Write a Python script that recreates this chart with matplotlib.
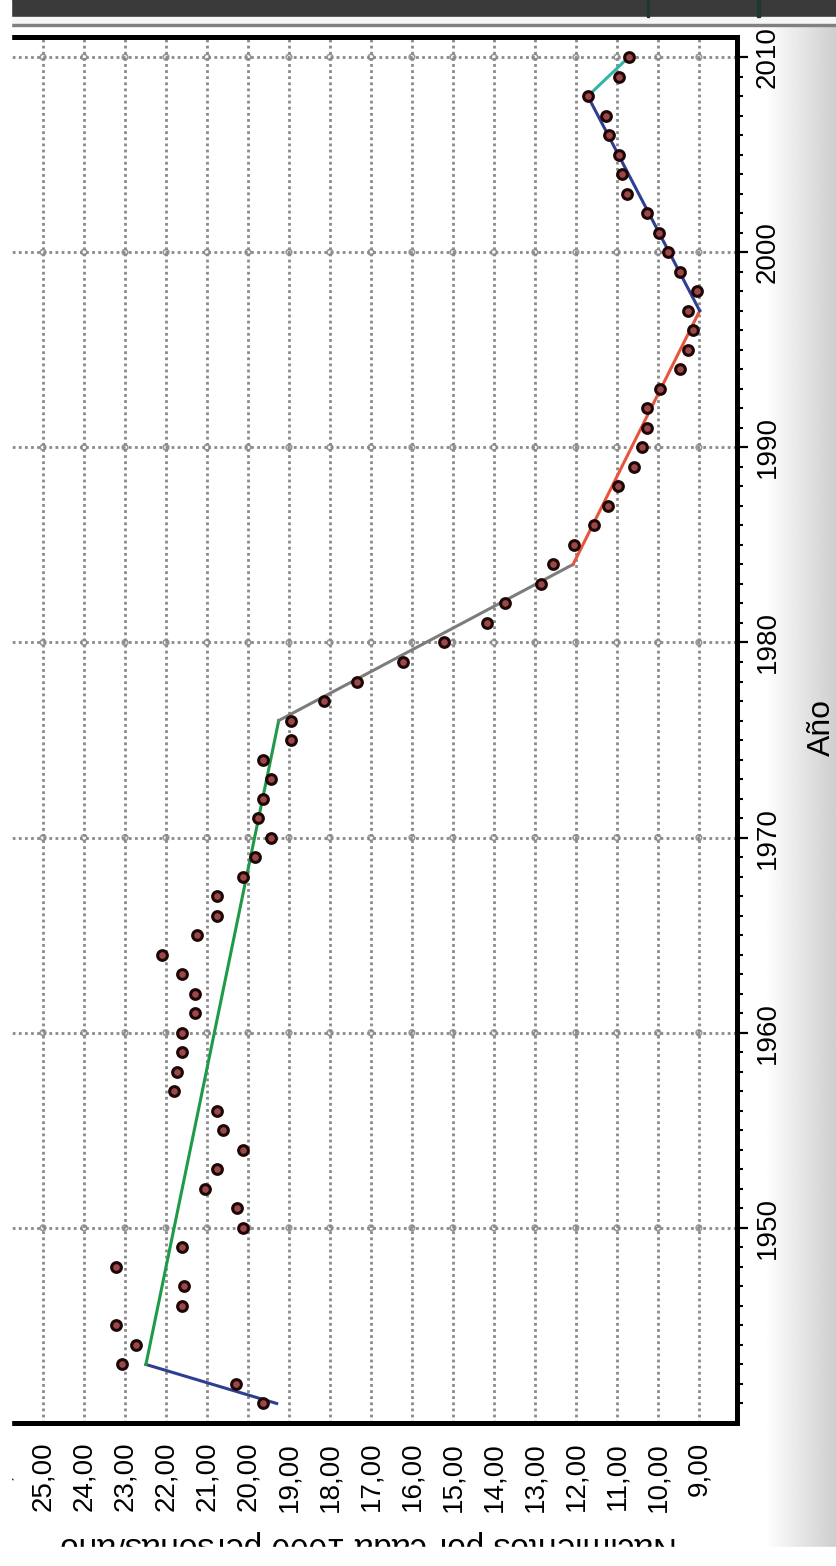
import numpy as np
import matplotlib
matplotlib.use("Agg")
import matplotlib.pyplot as plt
from matplotlib.patches import Rectangle

plt.rcParams["font.family"] = ["Liberation Sans", "DejaVu Sans"]

# ── Data ──────────────────────────────────────────────────────────────────────
years = list(range(1941, 2011))
birth_rate = [
    19.63, 20.29, 23.07, 22.73, 23.22, 21.60, 21.56, 23.22, 21.60,   # 1941-49
    20.12, 20.27, 21.05, 20.76, 20.12, 20.61, 20.76, 21.80, 21.73, 21.61,  # 1950-59
    21.61, 21.29, 21.29, 21.61, 22.10, 21.24, 20.76, 20.76, 20.12, 19.83,  # 1960-69
    19.44, 19.76, 19.63, 19.44, 19.63, 18.95, 18.95, 18.15, 17.34, 16.22,  # 1970-79
    15.22, 14.17, 13.73, 12.85, 12.56, 12.05, 11.56, 11.22, 10.98, 10.59,  # 1980-89
    10.39, 10.27, 10.27, 9.95, 9.46, 9.27, 9.15, 9.27, 9.05, 9.46,         # 1990-99
    9.76, 9.98, 10.27, 10.76, 10.88, 10.95, 11.20, 11.27, 11.71, 10.95,    # 2000-09
    10.71,                                                                 # 2010
]

# piecewise trend (breakpoints)
trend_years = [1941, 1943, 1976, 1984, 1997, 2008, 2010]
trend_rate = [19.30, 22.49, 19.25, 12.07, 8.98, 11.71, 10.71]
trend_colors = ["#2e3f8f", "#1f9a48", "#7c7c7c", "#e8553f", "#2e3f8f", "#33b3a6"]

value_ticks = list(range(9, 27))
value_labels = [f"{v},00" for v in value_ticks]
decade_ticks = list(range(1950, 2011, 10))
year_minor = list(range(1941, 2011))

W, H = 836, 1566

# ── Figure + screenshot chrome ────────────────────────────────────────────────
fig = plt.figure(figsize=(W / 100, H / 100), dpi=100)
fig.patch.set_facecolor("white")

bg = fig.add_axes([0, 0, 1, 1], zorder=-5)
grad = np.linspace(1.0, 0.81, 80)[None, :]
bg.imshow(grad, cmap="gray", vmin=0, vmax=1, extent=(765, W, 1547, 25), aspect="auto")
bg.add_patch(Rectangle((0, 0), W, 17, color="#3a3a3a"))
bg.add_patch(Rectangle((0, 17), W, 7, color="#f6f6f6"))
bg.add_patch(Rectangle((0, 24), W, 1.5, color="#808080"))
bg.add_patch(Rectangle((647, 0), 2, 17, color="#1c3a2c"))
bg.add_patch(Rectangle((757, 0), 2.5, 17, color="#1c3a2c"))
bg.set_xlim(0, W)
bg.set_ylim(H, 0)
bg.axis("off")

# ── Chart (drawn rotated: value horizontal, year vertical) ───────────────────
ax = fig.add_axes([0, (H - 1423) / H, 737 / W, 1386 / H])
ax.set_facecolor("white")
ax.set_xlim(26.05, 8.07)
ax.set_ylim(1940, 2011.03)

ax.yaxis.tick_right()
ax.set_xticks(value_ticks, value_labels, rotation=90, va="top", ha="center")
ax.set_yticks(decade_ticks, [str(y) for y in decade_ticks], rotation=90, va="center")
ax.set_yticks(year_minor, minor=True)

ax.grid(True, which="major", color="#8a8a8a", linestyle=(0, (1, 1.2)), linewidth=2)
gx, gy = np.meshgrid(value_ticks, decade_ticks)
ax.scatter(gx.ravel(), gy.ravel(), s=16, facecolors="none", edgecolors="#999999",
           linewidths=1.2, zorder=1.5)

for i, c in enumerate(trend_colors):
    ax.plot(trend_rate[i:i + 2], trend_years[i:i + 2], color=c, linewidth=2.2, zorder=3)

ax.plot(birth_rate, years, "o", markersize=7, markerfacecolor="#9a4848",
        markeredgecolor="#1e0606", markeredgewidth=2.2, zorder=4)

for s in ["top", "right", "bottom"]:
    ax.spines[s].set_linewidth(3.6)
    ax.spines[s].set_color("black")
ax.spines["left"].set_visible(False)

ax.tick_params(axis="x", length=0, pad=13.5, labelsize=20)
ax.tick_params(axis="y", which="major", direction="out", length=8, width=1.6,
               pad=5, labelsize=20)
ax.tick_params(axis="y", which="minor", direction="out", length=4.5, width=1.5)

ax.set_xlabel("Nacimientos por cada 1000 personas/año", fontsize=24, rotation=180,
              rotation_mode="anchor", ha="center", va="baseline")
ax.xaxis.set_label_coords(369 / 737, (1423 - 1537) / 1386)
ax.yaxis.set_label_position("right")
ax.set_ylabel("Año", fontsize=23, rotation=90, ha="center", va="center")
ax.yaxis.set_label_coords(822 / 737, (1423 - 728) / 1386)

# crop edges of the original screenshot
fig.add_artist(Rectangle((0, 0), 11 / W, 1, transform=fig.transFigure,
                         color="white", zorder=10))
fig.add_artist(Rectangle((0, 0), 1, (H - 1547) / H, transform=fig.transFigure,
                         color="white", zorder=10))

fig.savefig("out.png", dpi=100)
